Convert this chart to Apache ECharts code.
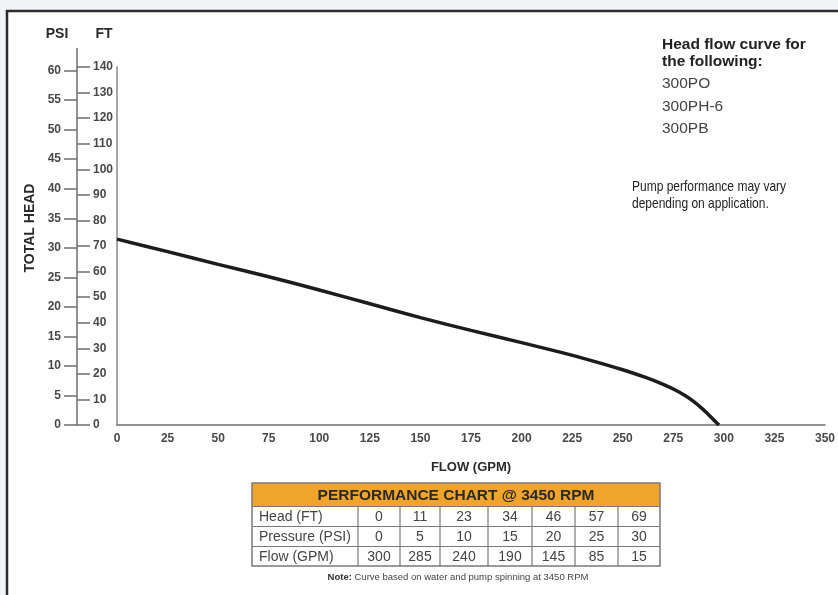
<!DOCTYPE html>
<html>
<head>
<meta charset="utf-8">
<script src="https://cdn.jsdelivr.net/npm/echarts@6/dist/echarts.min.js"></script>
<style>
html,body{margin:0;padding:0;background:#fff;}
#chart{width:838px;height:595px;}
</style>
</head>
<body>
<div id="chart"></div>
<script>
// ---- data ----
const flowCurve = [0, 25, 50, 75, 100, 125, 150, 175, 200, 220, 235, 250, 262, 270, 276, 281, 285, 289, 292, 295, 297.6];
const headCurve = [72.7, 67.8, 62.8, 58.0, 52.8, 47.4, 42.0, 37.0, 32.2, 28.3, 25.1, 21.6, 18.4, 15.9, 13.7, 11.4, 9.2, 6.6, 4.4, 2.0, 0];
const ftTicks = [0, 10, 20, 30, 40, 50, 60, 70, 80, 90, 100, 110, 120, 130, 140];
const psiTicks = [0, 5, 10, 15, 20, 25, 30, 35, 40, 45, 50, 55, 60];
const flowTicks = [0, 25, 50, 75, 100, 125, 150, 175, 200, 225, 250, 275, 300, 325, 350];
const FT_PER_PSI = 2.31;

const modelList = ['300PO', '300PH-6', '300PB'];
const tableTitle = 'PERFORMANCE CHART @ 3450 RPM';
const rowLabels = ['Head (FT)', 'Pressure (PSI)', 'Flow (GPM)'];
const tableHeadFt = [0, 11, 23, 34, 46, 57, 69];
const tablePressurePsi = [0, 5, 10, 15, 20, 25, 30];
const tableFlowGpm = [300, 285, 240, 190, 145, 85, 15];

// ---- layout / styles ----
const FONT = "'Liberation Sans', Arial, sans-serif";
const axisGrey = '#6e6e6e';
const labelColor = '#484848';
const GRID_LEFT = 117, GRID_RIGHT = 13, GRID_TOP = 67, GRID_BOTTOM = 170, SCALE_X = 77, W = 838;

const g = [];
// outside strips and frame
g.push({type:'rect', z:0, silent:true, shape:{x:0,y:0,width:838,height:10}, style:{fill:'#f2f5f8'}});
g.push({type:'rect', z:0, silent:true, shape:{x:0,y:0,width:6,height:595}, style:{fill:'#f2f5f8'}});
g.push({type:'rect', z:0, silent:true, shape:{x:7,y:11,width:880,height:640}, style:{fill:'none', stroke:'#2d2d2d', lineWidth:2.5}});
// shared PSI/FT scale line (extends above plot)
g.push({type:'line', z:1, silent:true, shape:{x1:SCALE_X,y1:48,x2:SCALE_X,y2:425}, style:{stroke:axisGrey, lineWidth:1.5}});
// unit headers
g.push({type:'text', x:57, y:34, style:{text:'PSI', fontFamily:FONT, fontWeight:'bold', fontSize:14, fill:'#2a2a2a', align:'center', verticalAlign:'middle'}});
g.push({type:'text', x:104, y:34, style:{text:'FT', fontFamily:FONT, fontWeight:'bold', fontSize:14, fill:'#2a2a2a', align:'center', verticalAlign:'middle'}});
g.push({type:'text', x:30, y:228, rotation:Math.PI/2, style:{text:'TOTAL HEAD', fontFamily:FONT, fontWeight:'bold', fontSize:14, fill:'#2a2a2a', align:'center', verticalAlign:'middle'}});
// right notes
g.push({type:'text', x:662, y:45, style:{text:'Head flow curve for', fontFamily:FONT, fontWeight:'bold', fontSize:15.5, fill:'#222', align:'left', verticalAlign:'middle'}});
g.push({type:'text', x:662, y:62, style:{text:'the following:', fontFamily:FONT, fontWeight:'bold', fontSize:15.5, fill:'#222', align:'left', verticalAlign:'middle'}});
modelList.forEach((m, i) => {
  g.push({type:'text', x:662, y:84 + i * 22.5, style:{text:m, fontFamily:FONT, fontSize:15.5, fill:'#444', align:'left', verticalAlign:'middle'}});
});
g.push({type:'text', x:632, y:187, scaleX:0.8, style:{text:'Pump performance may vary', fontFamily:FONT, fontSize:15, fill:'#222', align:'left', verticalAlign:'middle'}});
g.push({type:'text', x:632, y:204, scaleX:0.8, style:{text:'depending on application.', fontFamily:FONT, fontSize:15, fill:'#222', align:'left', verticalAlign:'middle'}});

// performance table
const colEdges = [252, 358, 400, 440, 488, 532, 575, 618, 660];
const rowEdges = [483, 506.5, 526.5, 546.5, 566];
const tableLine = '#7a7a7a';
g.push({type:'rect', z:1, shape:{x:colEdges[0], y:rowEdges[0], width:colEdges[8]-colEdges[0], height:rowEdges[1]-rowEdges[0]}, style:{fill:'#f1a42c'}});
g.push({type:'rect', z:2, shape:{x:colEdges[0], y:rowEdges[0], width:colEdges[8]-colEdges[0], height:rowEdges[4]-rowEdges[0]}, style:{fill:'none', stroke:tableLine, lineWidth:1.5}});
for (let r = 1; r < rowEdges.length - 1; r++) {
  g.push({type:'line', z:2, shape:{x1:colEdges[0], y1:rowEdges[r], x2:colEdges[8], y2:rowEdges[r]}, style:{stroke:tableLine, lineWidth:1.2}});
}
for (let c = 1; c < colEdges.length - 1; c++) {
  g.push({type:'line', z:2, shape:{x1:colEdges[c], y1:rowEdges[1], x2:colEdges[c], y2:rowEdges[4]}, style:{stroke:tableLine, lineWidth:1.2}});
}
g.push({type:'text', z:3, x:(colEdges[0]+colEdges[8])/2, y:(rowEdges[0]+rowEdges[1])/2 + 0.5, style:{text:tableTitle, fontFamily:FONT, fontWeight:'bold', fontSize:15.5, fill:'#2a2a2a', align:'center', verticalAlign:'middle'}});
const rows = [tableHeadFt, tablePressurePsi, tableFlowGpm];
rows.forEach((vals, r) => {
  const cy = (rowEdges[r+1] + rowEdges[r+2]) / 2 + 0.5;
  g.push({type:'text', z:3, x:colEdges[0] + 7, y:cy, style:{text:rowLabels[r], fontFamily:FONT, fontSize:14, fill:'#444', align:'left', verticalAlign:'middle'}});
  vals.forEach((v, c) => {
    g.push({type:'text', z:3, x:(colEdges[c+1] + colEdges[c+2]) / 2, y:cy, style:{text:String(v), fontFamily:FONT, fontSize:14, fill:'#444', align:'center', verticalAlign:'middle'}});
  });
});
g.push({type:'text', z:3, x:458, y:577, style:{text:'{b|Note:} Curve based on water and pump spinning at 3450 RPM', fontFamily:FONT, fontSize:9.5, fill:'#444', align:'center', verticalAlign:'middle', rich:{b:{fontWeight:'bold', fontFamily:FONT, fontSize:9.5, fill:'#333'}}}});

const chart = echarts.init(document.getElementById('chart'), null, {renderer:'canvas'});
chart.setOption({
  backgroundColor:'#fff',
  animation:false,
  grid:[
    {left:GRID_LEFT, right:GRID_RIGHT, top:GRID_TOP, bottom:GRID_BOTTOM, containLabel:false},
    // helper grid whose left edge is the shared PSI/FT scale line
    {left:SCALE_X, width:GRID_LEFT - SCALE_X, top:GRID_TOP, bottom:GRID_BOTTOM, containLabel:false}
  ],
  xAxis:[{
    type:'value', gridIndex:0, min:0, max:350, interval:25,
    axisLine:{show:true, lineStyle:{color:axisGrey, width:1.5}},
    axisTick:{show:false},
    splitLine:{show:false},
    axisLabel:{customValues:flowTicks, color:labelColor, fontFamily:FONT, fontWeight:'bold', fontSize:12, margin:8},
    name:'FLOW (GPM)', nameLocation:'middle', nameGap:36,
    nameTextStyle:{color:'#2a2a2a', fontFamily:FONT, fontWeight:'bold', fontSize:13}
  }, {
    type:'value', gridIndex:1, min:0, max:1, show:false
  }],
  yAxis:[
    { // FT scale used by the curve; draws the plot's left frame line
      type:'value', gridIndex:0, min:0, max:140, interval:10, position:'left', offset:0,
      axisLine:{show:true, lineStyle:{color:'#8a8a8a', width:1.5}},
      axisTick:{show:false}, axisLabel:{show:false}, splitLine:{show:false}
    },
    { // PSI scale on the shared line, ticks/labels to the left
      type:'value', gridIndex:0, min:0, max:140 / FT_PER_PSI, position:'left', offset:GRID_LEFT - SCALE_X,
      axisLine:{show:false},
      axisTick:{show:true, length:13, customValues:psiTicks, lineStyle:{color:axisGrey, width:1.5}},
      axisLabel:{margin:16, customValues:psiTicks, color:labelColor, fontFamily:FONT, fontWeight:'bold', fontSize:12},
      splitLine:{show:false}
    },
    { // FT scale on the shared line, ticks/labels to the right
      type:'value', gridIndex:1, min:0, max:140, interval:10, position:'left', offset:0,
      axisLine:{show:false},
      axisTick:{show:true, inside:true, length:13, lineStyle:{color:axisGrey, width:1.5}},
      axisLabel:{inside:true, margin:16, color:labelColor, fontFamily:FONT, fontWeight:'bold', fontSize:12},
      splitLine:{show:false}
    }
  ],
  series:[{
    type:'line', xAxisIndex:0, yAxisIndex:0,
    data:flowCurve.map((f, i) => [f, headCurve[i]]),
    smooth:0.3, showSymbol:false,
    lineStyle:{color:'#1c1c1c', width:3.5}
  }],
  graphic:g
});
</script>
</body>
</html>
